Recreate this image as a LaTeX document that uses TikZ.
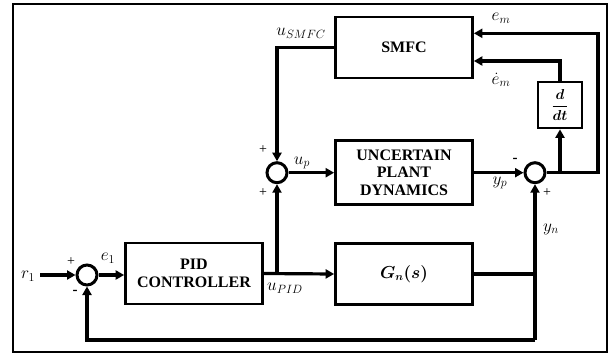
\documentclass[tikz,border=0pt]{standalone}
\usepackage{fontspec}
\setmainfont{Liberation Serif}
\usepackage{amsmath,bm}
\usetikzlibrary{arrows.meta,positioning,calc}
\tikzset{
  >={Triangle[length=8.5pt,width=9pt]},
  blk/.style={draw,line width=2.7pt,minimum width=137pt,minimum height=61pt,
    align=center,font=\fontsize{16}{17.5}\selectfont\bfseries},
  sumnode/.style={circle,draw,line width=3pt,minimum size=20pt,inner sep=0pt},
  sig/.style={->,line width=3.2pt},
  wire/.style={line width=3.2pt},
  lbl/.style={font=\fontsize{17}{19}\selectfont,inner sep=0pt},
  sgn/.style={font=\fontsize{14}{14}\selectfont,inner sep=0pt},
}

\begin{document}
\begin{tikzpicture}[x=1pt,y=-1pt]
  \useasboundingbox (0,0) rectangle (611,356);
  \draw[line width=2.2pt] (12.7,4) rectangle (607,352);

  % blocks
  \node[blk] (smfc) at (404,47.4) {SMFC};
  \node[blk,minimum height=64pt] (plant) at (404,172.5) {UNCERTAIN\\PLANT\\DYNAMICS};
  \node[blk] (pid) at (194,273.5) {PID\\CONTROLLER};
  \node[blk] (gn) at (404,274) {$\bm{G_n(s)}$};
  \node[blk,minimum width=44pt,minimum height=46pt,font=\fontsize{15}{16}\selectfont] (ddt) at (560,105) {$\bm{\dfrac{d}{dt}}$};

  % summing junctions
  \node[sumnode] (sum0) at (87,275) {};
  \node[sumnode] (sum1) at (277,172.7) {};
  \node[sumnode] (sum2) at (535,172.7) {};

  \coordinate (in) at (40,275);
  \coordinate (em) at (598,33.3);
  \coordinate (dem) at (560,61);
  \coordinate (fb) at (535,340);

  % signals
  \draw[sig] (in) -- (sum0.west);
  \draw[sig] (sum0.east) -- (sum0.east -| pid.west);
  \draw[sig] (pid.east) -- (gn.west);
  \draw[sig] (sum1 |- pid.east) -- (sum1.south);
  \draw[sig] (smfc.west) -| (sum1.north);
  \draw[sig] (sum1.east) -- (sum1.east -| plant.west);
  \draw[sig] (plant.east |- sum2) -- (sum2.west);
  \draw[sig] (sum2.east) -| (em) -- (em -| smfc.east);
  \draw[sig] (ddt.south |- sum2) -- (ddt.south);
  \draw[sig] (ddt.north) |- (dem -| smfc.east);
  \draw[wire] (gn.east) -- (gn.east -| fb);
  \draw[sig] (fb) -- (sum2.south);
  \draw[sig] (fb) -| (sum0.south);

  % labels
  \node[lbl] (lr1) at (28,276) {$r_1$};
  \node[lbl] (le1) at (108,258) {$e_1$};
  \node[lbl] (lupid) at (285,288) {$u_{PID}$};
  \node[lbl] (lusmfc) at (301,33) {$u_{SMFC}$};
  \node[lbl] (lup) at (302,163) {$u_p$};
  \node[lbl] (lyp) at (500,183) {$y_p$};
  \node[lbl] (lem) at (501,18) {$e_m$};
  \node[lbl] (ldem) at (501,80) {$\dot{e}_m$};
  \node[lbl] (lyn) at (551,229) {$y_n$};

  % signs
  \node[sgn] (s0a) at (71,262) {+};
  \node[sgn,font=\fontsize{15}{15}\selectfont\bfseries] (s0b) at (75,292) {-};
  \node[sgn] (s1a) at (263,150) {+};
  \node[sgn] (s1b) at (263,193) {+};
  \node[sgn,font=\fontsize{15}{15}\selectfont\bfseries] (s2a) at (515,160) {-};
  \node[sgn] (s2b) at (547,193) {+};
\end{tikzpicture}
\end{document}
